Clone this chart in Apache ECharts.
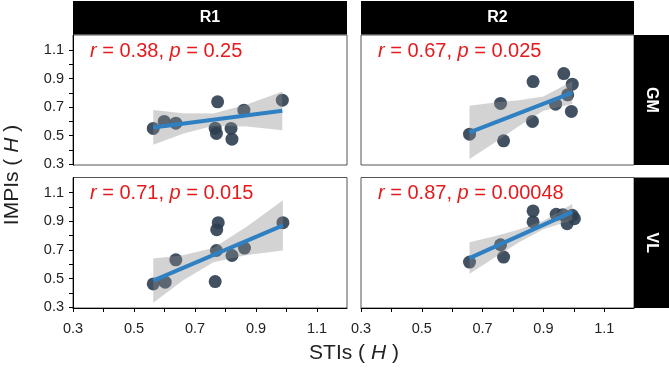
<!DOCTYPE html>
<html>
<head>
<meta charset="utf-8">
<script src="https://cdn.jsdelivr.net/npm/echarts@6/dist/echarts.min.js"></script>
<style>
  html, body { margin: 0; padding: 0; background: #fff; }
  #chart { width: 669px; height: 369px; }
</style>
</head>
<body>
<div id="chart"></div>
<script>
// facet labels
var columns = ['R1', 'R2'];
var rows = ['GM', 'VL'];

// axis ticks (both axes share the same scale)
var tickValues = [0.3, 0.4, 0.5, 0.6, 0.7, 0.8, 0.9, 1.0, 1.1];
var labelValues = [0.3, 0.5, 0.7, 0.9, 1.1];

// R1 / GM
var r1gmX = [0.563, 0.599, 0.637, 0.774, 0.766, 0.770, 0.818, 0.821, 0.860, 0.986];
var r1gmY = [0.551, 0.600, 0.588, 0.737, 0.553, 0.516, 0.551, 0.476, 0.679, 0.749];
var r1gmFitX = [0.563, 0.986];
var r1gmFitY = [0.558, 0.674];
var r1gmBandX = [0.563, 0.66, 0.76, 0.87, 0.986];
var r1gmBandLo = [0.436, 0.513, 0.569, 0.565, 0.539];
var r1gmBandHi = [0.680, 0.657, 0.655, 0.719, 0.809];

// R2 / GM
var r2gmX = [0.657, 0.759, 0.769, 0.866, 0.864, 0.940, 0.967, 0.995, 0.980, 0.992];
var r2gmY = [0.511, 0.726, 0.464, 0.879, 0.600, 0.721, 0.935, 0.861, 0.786, 0.670];
var r2gmFitX = [0.657, 0.995];
var r2gmFitY = [0.523, 0.802];
var r2gmBandX = [0.657, 0.74, 0.82, 0.90, 0.995];
var r2gmBandLo = [0.337, 0.452, 0.568, 0.674, 0.722];
var r2gmBandHi = [0.709, 0.732, 0.748, 0.774, 0.882];

// R1 / VL
var r1vlX = [0.563, 0.602, 0.637, 0.766, 0.770, 0.771, 0.776, 0.821, 0.862, 0.988];
var r1vlY = [0.463, 0.475, 0.631, 0.479, 0.696, 0.841, 0.890, 0.661, 0.713, 0.890];
var r1vlFitX = [0.563, 0.988];
var r1vlFitY = [0.486, 0.871];
var r1vlBandX = [0.563, 0.66, 0.76, 0.87, 0.988];
var r1vlBandLo = [0.331, 0.486, 0.614, 0.664, 0.696];
var r1vlBandHi = [0.641, 0.662, 0.714, 0.864, 1.046];

// R2 / VL
var r2vlX = [0.657, 0.759, 0.769, 0.866, 0.866, 0.942, 0.964, 0.978, 0.995, 1.002];
var r2vlY = [0.615, 0.736, 0.650, 0.972, 0.895, 0.948, 0.946, 0.883, 0.941, 0.918];
var r2vlFitX = [0.657, 0.995];
var r2vlFitY = [0.643, 0.965];
var r2vlBandX = [0.657, 0.74, 0.82, 0.90, 0.995];
var r2vlBandLo = [0.533, 0.648, 0.754, 0.844, 0.909];
var r2vlBandHi = [0.753, 0.796, 0.842, 0.904, 1.021];

// correlation results
var rValues = ['0.38', '0.67', '0.71', '0.87'];
var pValues = ['0.25', '0.025', '0.015', '0.00048'];

var panels = [
  { x: r1gmX, y: r1gmY, fx: r1gmFitX, fy: r1gmFitY, bx: r1gmBandX, lo: r1gmBandLo, hi: r1gmBandHi },
  { x: r2gmX, y: r2gmY, fx: r2gmFitX, fy: r2gmFitY, bx: r2gmBandX, lo: r2gmBandLo, hi: r2gmBandHi },
  { x: r1vlX, y: r1vlY, fx: r1vlFitX, fy: r1vlFitY, bx: r1vlBandX, lo: r1vlBandLo, hi: r1vlBandHi },
  { x: r2vlX, y: r2vlY, fx: r2vlFitX, fy: r2vlFitY, bx: r2vlBandX, lo: r2vlBandLo, hi: r2vlBandHi }
];

var grids = [
  { left: 73, top: 35, width: 274, height: 130 },
  { left: 361, top: 35, width: 273, height: 130 },
  { left: 73, top: 177.5, width: 274, height: 130.5 },
  { left: 361, top: 177.5, width: 273, height: 130.5 }
];

var FONT = 'Liberation Sans, Arial, sans-serif';

function zip(a, b) {
  return a.map(function (v, i) { return [v, b[i]]; });
}

var xAxes = [], yAxes = [], series = [], graphics = [];

grids.forEach(function (g, i) {
  var bottomRow = i >= 2, leftCol = i % 2 === 0;
  xAxes.push({
    gridIndex: i, type: 'value', min: 0.3, max: 1.198,
    splitLine: { show: false },
    axisLine: { show: bottomRow, lineStyle: { color: '#000', width: 1 } },
    axisTick: { show: bottomRow, length: 4, lineStyle: { color: '#000' }, customValues: tickValues },
    axisLabel: { show: bottomRow, margin: 13, customValues: labelValues,
      formatter: function (v) { return v.toFixed(1); },
      fontSize: 14.5, color: '#222', fontFamily: FONT }
  });
  yAxes.push({
    gridIndex: i, type: 'value', min: 0.295, max: 1.205,
    splitLine: { show: false },
    axisLine: { show: leftCol, lineStyle: { color: '#000', width: 1 } },
    axisTick: { show: leftCol, length: 4, lineStyle: { color: '#000' }, customValues: tickValues },
    axisLabel: { show: leftCol, margin: 9, customValues: labelValues,
      formatter: function (v) { return v.toFixed(1); },
      fontSize: 14.5, color: '#222', fontFamily: FONT }
  });

  var p = panels[i];
  series.push({
    type: 'scatter', xAxisIndex: i, yAxisIndex: i, z: 2,
    symbolSize: 13,
    itemStyle: { color: '#2c3e50', opacity: 0.9 },
    data: zip(p.x, p.y)
  });
  series.push({
    type: 'custom', xAxisIndex: i, yAxisIndex: i, z: 3,
    data: [[p.bx[0], p.lo[0]]],
    renderItem: (function (p) {
      return function (params, api) {
        var pts = [];
        for (var k = 0; k < p.bx.length; k++) pts.push(api.coord([p.bx[k], p.hi[k]]));
        for (var k2 = p.bx.length - 1; k2 >= 0; k2--) pts.push(api.coord([p.bx[k2], p.lo[k2]]));
        return { type: 'polygon', shape: { points: pts }, style: { fill: 'rgba(140,140,140,0.38)' } };
      };
    })(p)
  });
  series.push({
    type: 'line', xAxisIndex: i, yAxisIndex: i, z: 4,
    symbol: 'none',
    lineStyle: { color: '#2e80c2', width: 4 },
    data: zip(p.fx, p.fy)
  });

  graphics.push({
    type: 'text', left: g.left + 17, top: g.top + 6, z: 10,
    style: {
      text: '{i|r} = ' + rValues[i] + ', {i|p} = ' + pValues[i],
      fill: '#e41a1c', font: '20px ' + FONT,
      rich: { i: { fontStyle: 'italic', fill: '#e41a1c', fontSize: 20, fontFamily: FONT } }
    }
  });
});

// top strips
columns.forEach(function (c, j) {
  var g = grids[j];
  graphics.push({ type: 'rect', shape: { x: g.left, y: 1, width: g.width, height: 33.5 }, style: { fill: '#000' } });
  graphics.push({ type: 'text', x: g.left + g.width / 2, y: 18, z: 10,
    style: { text: c, fill: '#fff', font: 'bold 16px ' + FONT, align: 'center', verticalAlign: 'middle' } });
});
// right strips
rows.forEach(function (r, j) {
  var g = grids[j * 2 + 1];
  graphics.push({ type: 'rect', shape: { x: g.left + g.width, y: g.top, width: 669 - g.left - g.width, height: g.height }, style: { fill: '#000' } });
  graphics.push({ type: 'text', x: 651.5, y: g.top + g.height / 2, rotation: -Math.PI / 2, z: 10,
    style: { text: r, fill: '#fff', font: 'bold 16px ' + FONT, align: 'center', verticalAlign: 'middle' } });
});
// axis titles
graphics.push({ type: 'text', x: 354, y: 353, z: 10,
  style: { text: 'STIs ( {i|H} )', fill: '#222', font: '21px ' + FONT, align: 'center', verticalAlign: 'middle',
    rich: { i: { fontStyle: 'italic', fontSize: 21, fontFamily: FONT, fill: '#222' } } } });
graphics.push({ type: 'text', x: 12, y: 175, rotation: Math.PI / 2, z: 10,
  style: { text: 'IMPIs ( {i|H} )', fill: '#222', font: '21px ' + FONT, align: 'center', verticalAlign: 'middle',
    rich: { i: { fontStyle: 'italic', fontSize: 21, fontFamily: FONT, fill: '#222' } } } });

var chart = echarts.init(document.getElementById('chart'), null, { renderer: 'canvas' });
chart.setOption({
  animation: false,
  backgroundColor: '#fff',
  grid: grids.map(function (g) {
    return { left: g.left, top: g.top, width: g.width, height: g.height, show: true,
      borderColor: '#555', borderWidth: 1, backgroundColor: '#fff' };
  }),
  xAxis: xAxes,
  yAxis: yAxes,
  series: series,
  graphic: graphics
});
</script>
</body>
</html>
